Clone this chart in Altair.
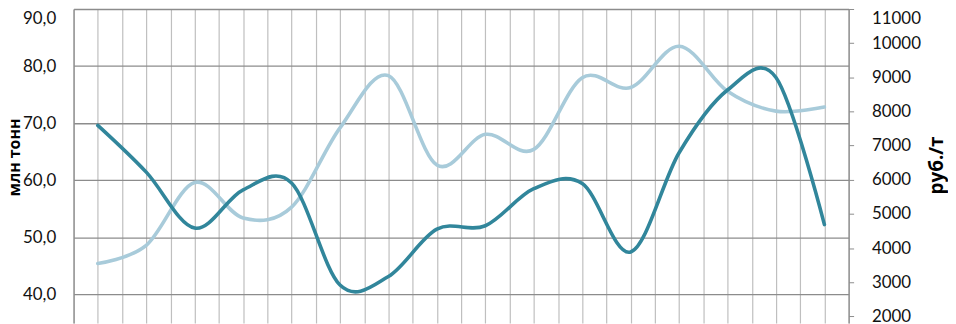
import altair as alt
import pandas as pd

# 16 periods (unlabelled in the visible crop)
period = list(range(1, 17))
# million tonnes (left axis)
volume_mt = [69.6, 61.4, 51.6, 58.3, 59.5, 41.6, 43.1, 51.4, 52.0, 58.5, 59.4, 47.4, 64.8, 75.8, 78.0, 52.2]
# rub./t (right axis)
price_rub = [3550, 4080, 5920, 4880, 5200, 7520, 9050, 6430, 7330, 6890, 8990, 8700, 9910, 8590, 8010, 8130]

left_ticks = [40, 50, 60, 70, 80, 90]
right_ticks = [2000, 3000, 4000, 5000, 6000, 7000, 8000, 9000, 10000, 11000]

df = pd.DataFrame({"period": period, "volume": volume_mt, "price": price_rub})

DARK = "#31869B"
LIGHT = "#A8CBDA"
FONT = "Lato"

x_enc = alt.X(
    "pos:Q",
    scale=alt.Scale(domain=[0, 16], nice=False, zero=False),
    axis=alt.Axis(
        values=[k * 0.5 for k in range(33)],
        labels=False, ticks=False, domain=False, title=None,
        grid=True, gridColor="#BFBFBF", gridWidth=1.2,
    ),
)

base = alt.Chart(df).transform_calculate(pos="datum.period - 0.5")

dark = base.mark_line(
    color=DARK, strokeWidth=3.6, interpolate="cardinal", strokeCap="round"
).encode(
    x=x_enc,
    y=alt.Y(
        "volume:Q",
        scale=alt.Scale(domain=[34.95, 90], nice=False, zero=False),
        axis=alt.Axis(
            values=left_ticks,
            labelExpr="replace(format(datum.value, '.1f'), '.', ',')",
            title="млн тонн",
            titleFont="Open Sans", titleFontWeight="bold", titleFontSize=16,
            titleAngle=270, titleX=-59, titleY=149,
            titleAlign="center", titleBaseline="middle", titleColor="#000000",
            labelFont=FONT, labelFontSize=17, labelColor="#111111",
            labelPadding=18, ticks=False, tickSize=0,
            labelFlush=True, labelFlushOffset=-2,
            grid=True, gridColor="#8C8C8C", gridWidth=1.3,
            domain=True, domainColor="#8C8C8C", domainWidth=1.3,
        ),
    ),
)

light = base.mark_line(
    color=LIGHT, strokeWidth=3.6, interpolate="cardinal", strokeCap="round"
).encode(
    x=x_enc,
    y=alt.Y(
        "price:Q",
        scale=alt.Scale(domain=[1807, 11000], nice=False, zero=False),
        axis=alt.Axis(
            orient="right",
            values=right_ticks,
            format="d",
            title="руб./т",
            titleFont="Open Sans", titleFontWeight="bold", titleFontSize=19,
            titleAngle=270, titleX=88, titleY=157,
            titleAlign="center", titleBaseline="middle", titleColor="#000000",
            labelFont=FONT, labelFontSize=17, labelColor="#111111",
            labelPadding=18, ticks=True, tickSize=5, tickColor="#8C8C8C",
            labelFlush=True, labelFlushOffset=-2,
            grid=False,
            domain=True, domainColor="#8C8C8C", domainWidth=1.3,
        ),
    ),
)

chart = (
    alt.layer(light, dark)
    .resolve_scale(y="independent")
    .properties(
        width=780,
        height=316,
        autosize=alt.AutoSizeParams(type="none"),
        padding={"left": 66, "top": 0, "right": 100, "bottom": 0},
        background="white",
    )
    .configure_view(stroke=None)
)

chart.save("out.html", embed_options={"renderer": "svg", "actions": False})
